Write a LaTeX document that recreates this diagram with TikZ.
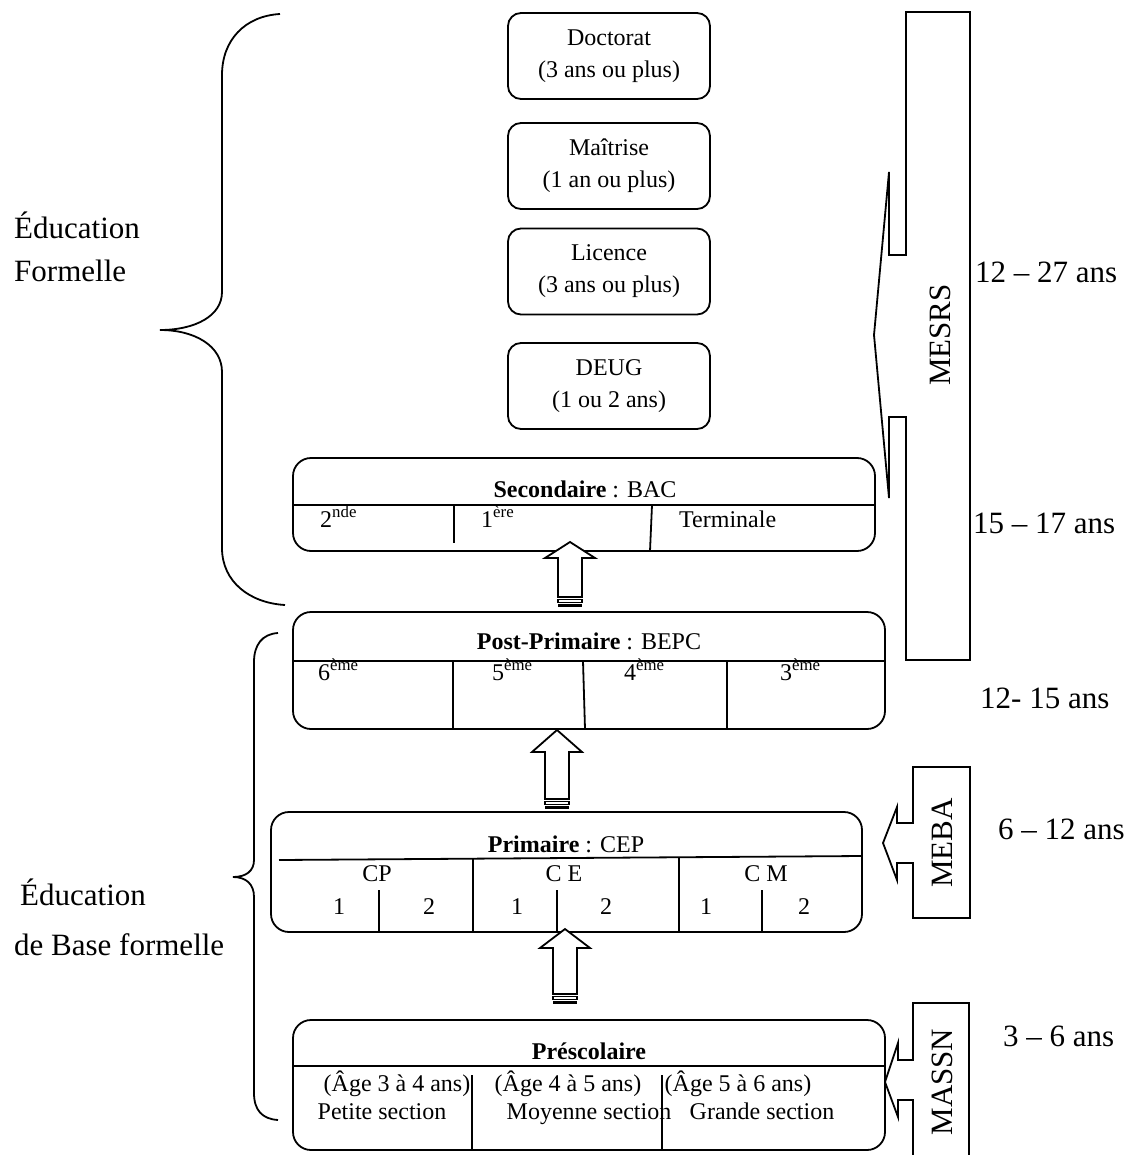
\documentclass[tikz,border=0pt]{standalone}
\usepackage{fontspec}
\setmainfont{Liberation Serif}
\tikzset{
  x=1pt, y=-1pt,
  lw/.style={line width=1.8pt},
  smallbox/.style={draw, line width=1.8pt, rounded corners=13pt, minimum width=202pt,
    minimum height=86pt, align=center, inner sep=0pt,
    font=\fontsize{24}{32}\selectfont},
  bigbox/.style={draw, line width=1.8pt, rounded corners=18pt, inner sep=0pt},
  boxtxt/.style={font=\fontsize{24}{28}\selectfont, inner sep=0pt},
  sidetxt/.style={font=\fontsize{31}{40}\selectfont, inner sep=0pt},
}
% block arrow pointing up: centre x, tip y, shoulder y, shaft bottom y
\newcommand\uparr[4]{%
  \draw[lw, fill=white] (#1,#2) -- ({#1+25},#3) -- ({#1+12},#3) -- ({#1+12},#4)
    -- ({#1-12},#4) -- ({#1-12},#3) -- ({#1-25},#3) -- cycle;
  \draw[line width=1.2pt] ({#1-12},{#4+2.5}) rectangle ({#1+12},{#4+5.5});
  \fill ({#1-12},{#4+7}) rectangle ({#1+12},{#4+9.5});
}
\begin{document}
\begin{tikzpicture}
\clip (0,0) rectangle (1137,1155);
\useasboundingbox (0,0) rectangle (1137,1155);

% higher education
\node[smallbox] (doc) at (609,56) {Doctorat\\(3 ans ou plus)};
\node[smallbox] (mai) at (609,166) {Maîtrise\\(1 an ou plus)};
\node[smallbox] (lic) at (609,271.5) {Licence\\(3 ans ou plus)};
\node[smallbox] (deug) at (609,386) {DEUG\\(1 ou 2 ans)};

% secondary
\node[bigbox, minimum width=582pt, minimum height=93pt] (sec) at (584,504.5) {};
\draw[lw] (293,505) -- (875,505);
\draw[lw] (454,505) -- (454,543);
\draw[lw] (652,505) -- (650,551);
\node[boxtxt] (sect) at (585,489) {\textbf{Secondaire} : BAC};
\node[boxtxt, anchor=base west] (s2) at (320,527) {2\textsuperscript{nde}};
\node[boxtxt, anchor=base west] (s1) at (481,527) {1\textsuperscript{ère}};
\node[boxtxt, anchor=base west] (st) at (679,527) {Terminale};

% post-primary
\node[bigbox, minimum width=592pt, minimum height=117pt] (pp) at (589,670.5) {};
\draw[lw] (293,661) -- (885,661);
\draw[lw] (453,661) -- (453,729);
\draw[lw] (583,661) -- (585,729);
\draw[lw] (727,661) -- (727,729);
\node[boxtxt] (ppt) at (589,641) {\textbf{Post-Primaire} : BEPC};
\node[boxtxt, anchor=base west] (p6) at (318,680) {6\textsuperscript{ème}};
\node[boxtxt, anchor=base west] (p5) at (492,680) {5\textsuperscript{ème}};
\node[boxtxt, anchor=base west] (p4) at (624,680) {4\textsuperscript{ème}};
\node[boxtxt, anchor=base west] (p3) at (780,680) {3\textsuperscript{ème}};

% primary
\node[bigbox, minimum width=591pt, minimum height=120pt] (pri) at (566.5,872) {};
\draw[lw] (279,860) -- (862,856);
\draw[lw] (473,859) -- (473,932);
\draw[lw] (679,857) -- (679,932);
\draw[lw] (379,890) -- (379,932);
\draw[lw] (557,890) -- (557,932);
\draw[lw] (762,890) -- (762,932);
\node[boxtxt] (prit) at (566,844) {\textbf{Primaire} : CEP};
\node[boxtxt] (cp) at (377,874) {CP};
\node[boxtxt] (ce) at (564,874) {C E};
\node[boxtxt] (cm) at (766,874) {C M};
\node[boxtxt] (cp1) at (339,907) {1};
\node[boxtxt] (cp2) at (429,907) {2};
\node[boxtxt] (ce1) at (517,907) {1};
\node[boxtxt] (ce2) at (606,907) {2};
\node[boxtxt] (cm1) at (706,907) {1};
\node[boxtxt] (cm2) at (804,907) {2};

% pre-school
\node[bigbox, minimum width=592pt, minimum height=130pt] (pre) at (589,1085) {};
\draw[lw] (293,1066) -- (885,1066);
\draw[lw] (472,1075) -- (472,1150);
\draw[lw] (662,1075) -- (662,1150);
\node[boxtxt] (pret) at (589,1051) {\textbf{Préscolaire}};
\node[boxtxt, anchor=base] (a1) at (397,1091) {(Âge 3 à 4 ans)};
\node[boxtxt, anchor=base] (a2) at (568,1091) {(Âge 4 à 5 ans)};
\node[boxtxt, anchor=base] (a3) at (738,1091) {(Âge 5 à 6 ans)};
\node[boxtxt, anchor=base] (n1) at (382,1119) {Petite section};
\node[boxtxt, anchor=base] (n2) at (589,1119) {Moyenne section};
\node[boxtxt, anchor=base] (n3) at (762,1119) {Grande section};

% arrows between levels
\uparr{570}{542}{558}{597}
\uparr{557}{730}{752}{799}
\uparr{565}{929}{948}{994}

% braces
\draw[lw] (280,14) .. controls (245,16) and (222,40) .. (222,75) -- (222,292)
  .. controls (222,316) and (195,330) .. (160,330)
  .. controls (195,330) and (222,346) .. (222,372) -- (222,548)
  .. controls (222,582) and (250,603) .. (285,605);
\draw[lw] (278,633) .. controls (262,634) and (254,645) .. (254,662) -- (254,860)
  .. controls (254,871) and (246,877) .. (233,877)
  .. controls (246,877) and (254,884) .. (254,897) -- (254,1093)
  .. controls (254,1110) and (262,1119) .. (278,1120);

% ministries
\draw[lw] (906,12) -- (970,12) -- (970,660) -- (906,660) -- (906,417) -- (889,417)
  -- (889,498) -- (874,335) -- (889,172) -- (889,255) -- (906,255) -- cycle;
\node[sidetxt, rotate=90] (mesrs) at (940,335) {MESRS};
\draw[lw] (913,767) -- (970,767) -- (970,918) -- (913,918) -- (913,863) -- (897,863)
  -- (897,880) -- (883,843) -- (897,807) -- (897,823) -- (913,823) -- cycle;
\node[sidetxt, rotate=90] (meba) at (942,843) {MEBA};
\draw[lw] (913,1003) -- (969,1003) -- (969,1170) -- (913,1170) -- (913,1100) -- (898,1100)
  -- (898,1117) -- (885,1082) -- (898,1043) -- (898,1060) -- (913,1060) -- cycle;
\node[sidetxt, rotate=90] (massn) at (942,1082) {MASSN};

% side labels
\node[sidetxt, anchor=base west] (ef1) at (14,239) {Éducation};
\node[sidetxt, anchor=base west] (ef2) at (14,281) {Formelle};
\node[sidetxt, anchor=base west] (eb1) at (20,905) {Éducation};
\node[sidetxt, anchor=base west] (eb2) at (14,955) {de Base formelle};

% age ranges
\node[sidetxt, anchor=base west] (g1) at (975,283) {12 – 27 ans};
\node[sidetxt, anchor=base west] (g2) at (973,533) {15 – 17 ans};
\node[sidetxt, anchor=base west] (g3) at (980,708) {12- 15 ans};
\node[sidetxt, anchor=base west] (g4) at (998,839) {6 – 12 ans};
\node[sidetxt, anchor=base west] (g5) at (1003,1046) {3 – 6 ans};
\end{tikzpicture}
\end{document}
